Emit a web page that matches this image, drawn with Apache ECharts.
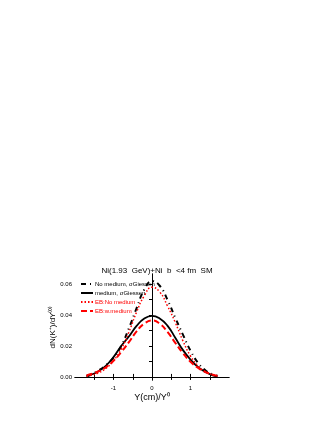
<!DOCTYPE html>
<html><head><meta charset="utf-8">
<script src="https://cdn.jsdelivr.net/npm/echarts@6/dist/echarts.min.js"></script>
<style>html,body{margin:0;padding:0;background:#fff}#c{width:332px;height:430px}</style>
</head><body><div id="c"></div>
<script>
const yRapidity = [-1.7,-1.6,-1.4,-1.2,-1.0,-0.8,-0.6,-0.4,-0.2,0,0.2,0.4,0.6,0.8,1.0,1.2,1.4,1.6,1.7];
const noMediumGiessen = [0.0008,0.0015,0.0040,0.0075,0.0125,0.0200,0.0315,0.0445,0.0565,0.0620,0.0590,0.0500,0.0385,0.0275,0.0170,0.0090,0.0040,0.0015,0.0008];
const mediumGiessen = [0.0004,0.0012,0.0035,0.0072,0.0128,0.0200,0.0262,0.0330,0.0378,0.0395,0.0378,0.0332,0.0255,0.0175,0.0112,0.0063,0.0030,0.0008,0.0002];
const ebNoMedium = [0.0005,0.0010,0.0025,0.0055,0.0105,0.0180,0.0290,0.0420,0.0525,0.0580,0.0550,0.0460,0.0355,0.0235,0.0135,0.0070,0.0032,0.0012,0.0006];
const ebWMedium = [0.0010,0.0017,0.0035,0.0062,0.0105,0.0160,0.0225,0.0295,0.0345,0.0365,0.0345,0.0292,0.0222,0.0155,0.0098,0.0058,0.0030,0.0012,0.0007];
const seriesNames = ['No medium, σGiessen','medium, σGiessen','EB:No medium','EB:w.medium'];
const yTickLabels = [0,0.02,0.04,0.06];
const xTickLabels = [-1,0,1];

function pairs(v){return yRapidity.map((x,i)=>[x,v[i]]);}
const font = 'Liberation Sans, Arial, sans-serif';
const chart = echarts.init(document.getElementById('c'));
chart.setOption({
  animation:false,
  title:{text:'Ni(1.93  GeV)+Ni  b  <4 fm  SM',left:152,textAlign:'center',top:262,
    textStyle:{fontSize:8,fontWeight:'normal',color:'#000',fontFamily:font}},
  legend:{orient:'vertical',left:75,top:276,itemWidth:12,itemHeight:6,itemGap:3,
    itemStyle:{opacity:0},
    textStyle:{fontSize:6,fontFamily:font,color:'#000',padding:[0,0,0,-3]},
    data:[{name:seriesNames[0]},{name:seriesNames[1]},
      {name:seriesNames[2],textStyle:{color:'#ff0000'}},{name:seriesNames[3],textStyle:{color:'#ff0000'}}]},
  grid:{left:75,right:103,top:274,bottom:50,containLabel:false},
  xAxis:[{type:'value',min:-2,max:2,
    name:'Y(cm)/Y⁰',nameLocation:'middle',nameGap:13,
    nameTextStyle:{fontSize:9,fontFamily:font,color:'#000'},
    axisLine:{lineStyle:{color:'#000',width:1}},
    axisTick:{inside:true,length:3,lineStyle:{color:'#000'},customValues:[-1.5,-1,-0.5,0,0.5,1,1.5]},
    axisLabel:{fontSize:6,fontFamily:font,color:'#000',margin:5,customValues:xTickLabels,formatter:v=>String(v)},
    splitLine:{show:false}},
   {type:'value',position:'top',min:-2,max:2,
    axisLine:{lineStyle:{color:'#000',width:1}},
    axisTick:{inside:true,length:3,lineStyle:{color:'#000'},customValues:[-1.5,-1,-0.5,0,0.5,1,1.5]},
    axisLabel:{show:false},splitLine:{show:false}}],
  yAxis:[{type:'value',min:-0.002,max:0.0666,
    name:'dN(K⁺)/dY⁽⁰⁾',nameLocation:'middle',nameGap:8,
    nameTextStyle:{fontSize:8,fontFamily:font,color:'#000'},
    axisLine:{show:true,lineStyle:{color:'#000',width:1}},
    axisTick:{show:true,inside:false,length:3,lineStyle:{color:'#000'},customValues:[0,0.01,0.02,0.03,0.04,0.05,0.06]},
    axisLabel:{fontSize:6,fontFamily:font,color:'#000',margin:3,customValues:yTickLabels,formatter:v=>v.toFixed(2)},
    splitLine:{show:false}},
   {type:'value',position:'right',min:-0.002,max:0.0666,
    axisLine:{show:true,lineStyle:{color:'#000',width:1}},
    axisTick:{show:true,inside:true,length:3,lineStyle:{color:'#000'},customValues:[0,0.01,0.02,0.03,0.04,0.05,0.06]},
    axisLabel:{show:false},splitLine:{show:false}}],
  series:[
    {name:seriesNames[0],type:'line',smooth:true,symbol:'none',data:pairs(noMediumGiessen),
      lineStyle:{color:'#000',width:2,type:[5,4,1,4]},itemStyle:{color:'#000'}},
    {name:seriesNames[1],type:'line',smooth:true,symbol:'none',data:pairs(mediumGiessen),
      lineStyle:{color:'#000',width:1.8,type:'solid'},itemStyle:{color:'#000'}},
    {name:seriesNames[2],type:'line',smooth:true,symbol:'none',data:pairs(ebNoMedium),
      lineStyle:{color:'#ff0000',width:1.5,type:[1.5,2]},itemStyle:{color:'#ff0000'}},
    {name:seriesNames[3],type:'line',smooth:true,symbol:'none',data:pairs(ebWMedium),
      lineStyle:{color:'#ff0000',width:2,type:[6,3]},itemStyle:{color:'#ff0000'}}
  ]
});
</script></body></html>
